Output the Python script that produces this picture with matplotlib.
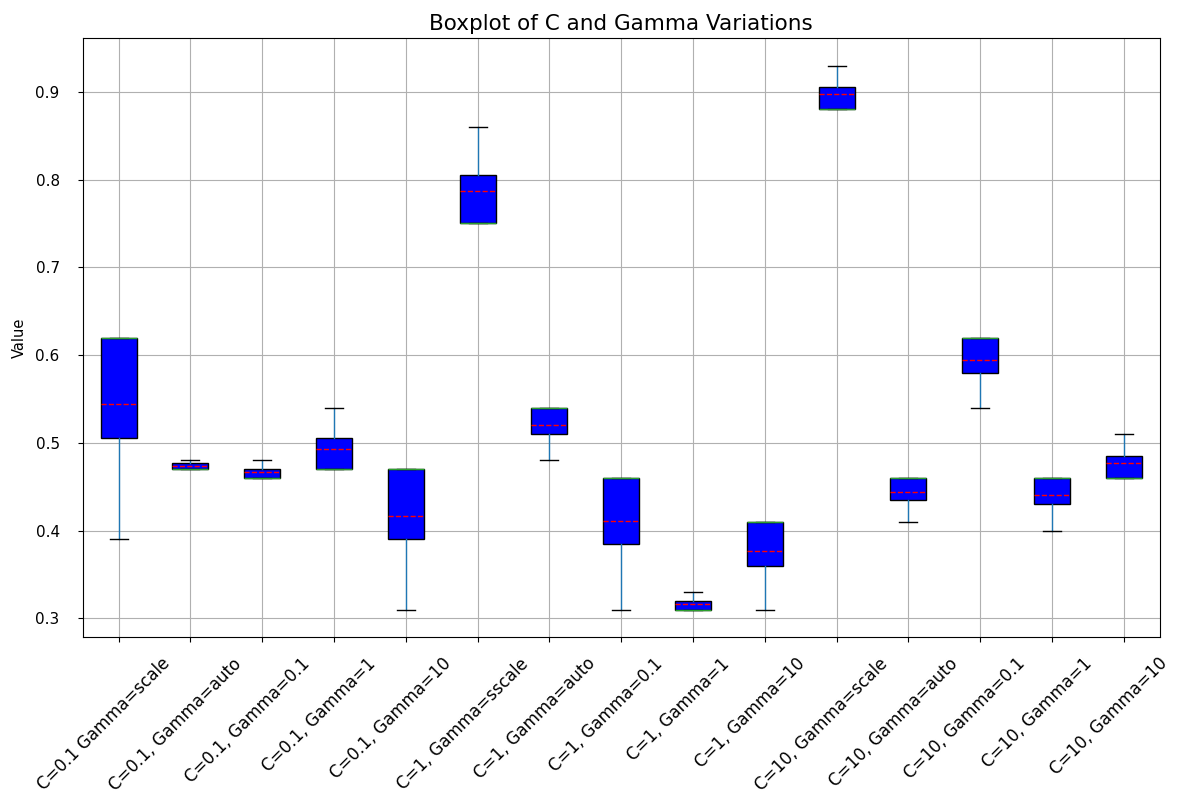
import matplotlib
matplotlib.use("Agg")
import matplotlib.pyplot as plt
import matplotlib.transforms as mtransforms

# labels of the parameter combinations
labels = ["C=0.1 Gamma=scale", "C=0.1, Gamma=auto", "C=0.1, Gamma=0.1",
          "C=0.1, Gamma=1", "C=0.1, Gamma=10", "C=1, Gamma=sscale",
          "C=1, Gamma=auto", "C=1, Gamma=0.1", "C=1, Gamma=1",
          "C=1, Gamma=10", "C=10, Gamma=scale", "C=10, Gamma=auto",
          "C=10, Gamma=0.1", "C=10, Gamma=1", "C=10, Gamma=10"]

# box statistics
whislo = [0.39, 0.47, 0.46, 0.47, 0.31, 0.75, 0.48, 0.31, 0.31, 0.31, 0.88, 0.41, 0.54, 0.40, 0.46]
q1     = [0.505, 0.47, 0.46, 0.47, 0.39, 0.75, 0.51, 0.385, 0.31, 0.36, 0.88, 0.435, 0.58, 0.43, 0.46]
med    = [0.62, 0.47, 0.46, 0.47, 0.47, 0.75, 0.54, 0.46, 0.31, 0.41, 0.88, 0.46, 0.62, 0.46, 0.46]
q3     = [0.62, 0.4775, 0.47, 0.505, 0.47, 0.805, 0.54, 0.46, 0.32, 0.41, 0.905, 0.46, 0.62, 0.46, 0.485]
whishi = [0.62, 0.48, 0.48, 0.54, 0.47, 0.86, 0.54, 0.46, 0.33, 0.41, 0.93, 0.46, 0.62, 0.46, 0.51]
mean   = [0.544, 0.474, 0.467, 0.4935, 0.417, 0.7875, 0.52, 0.411, 0.3167, 0.377, 0.897, 0.4435, 0.594, 0.4405, 0.4775]

stats = []
for i in range(len(labels)):
    stats.append({"label": labels[i], "whislo": whislo[i], "q1": q1[i], "med": med[i],
                  "q3": q3[i], "whishi": whishi[i], "mean": mean[i], "fliers": []})

fig, ax = plt.subplots(figsize=(11.98, 7.98), dpi=100)
fig.subplots_adjust(left=0.069, right=0.968, top=0.952, bottom=0.202)

ax.bxp(stats, patch_artist=True, showmeans=True, meanline=True,
       boxprops=dict(facecolor="blue", edgecolor="black"),
       whiskerprops=dict(color="#1f77b4"),
       capprops=dict(color="black"),
       medianprops=dict(color="#2ca02c"),
       meanprops=dict(color="red", linestyle="--"))

ax.grid(True)
ax.set_axisbelow(True)
ax.set_title("Boxplot of C and Gamma Variations", fontsize=15.5)
ax.set_ylabel("Value", fontsize=10.5, labelpad=6)
ax.tick_params(axis="y", pad=13, labelsize=11)

# rotated x labels, nudged a little left/down like the reference
shift = mtransforms.ScaledTranslation(-0.15, -0.08, fig.dpi_scale_trans)
for lab in ax.get_xticklabels():
    lab.set_rotation(45)
    lab.set_fontsize(12)
    lab.set_transform(lab.get_transform() + shift)

fig.savefig("out.png")
